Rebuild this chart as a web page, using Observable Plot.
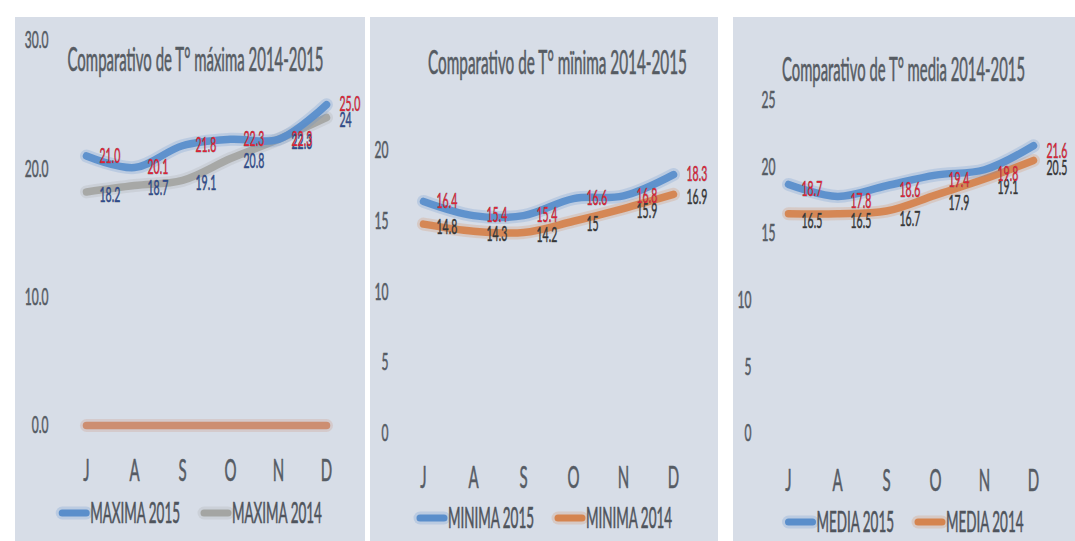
<!DOCTYPE html>
<html><head><meta charset="utf-8">
<script src="https://cdn.jsdelivr.net/npm/d3@7"></script>
<script src="https://cdn.jsdelivr.net/npm/@observablehq/plot@0.6"></script>
<style>
html,body{margin:0;padding:0;background:#fff;}
#page{position:relative;width:1075px;height:541px;overflow:hidden;background:#fff;}
.panel{position:absolute;top:17px;height:524px;background:#d7dde7;}
.panel svg{display:block;}
</style></head><body><div id="page"></div>
<script>
// ---- data ----
const months = ["J","A","S","O","N","D"];
const maxima2015 = [21.0, 20.1, 21.8, 22.3, 22.3, 25.0];
const maxima2014 = [18.2, 18.7, 19.1, 20.8, 22.3, 24];
const maximaSerie3 = [0, 0, 0, 0, 0, 0];
const minima2015 = [16.4, 15.4, 15.4, 16.6, 16.8, 18.3];
const minima2014 = [14.8, 14.3, 14.2, 15, 15.9, 16.9];
const media2015 = [18.7, 17.8, 18.6, 19.4, 19.8, 21.6];
const media2014 = [16.5, 16.5, 16.7, 17.9, 19.1, 20.5];
const maximaTicks = [0, 10, 20, 30];
const minimaTicks = [0, 5, 10, 15, 20];
const mediaTicksTop = [15, 20, 25];
const mediaTicksBottom = [0, 5, 10];
const titles = ["Comparativo de T° máxima 2014-2015", "Comparativo de T° mïnima 2014-2015", "Comparativo de T° media 2014-2015"];
const seriesNames = [["MAXIMA 2015", "MAXIMA 2014"], ["MINIMA 2015", "MINIMA 2014"], ["MEDIA 2015", "MEDIA 2014"]];

const FONT = "Lato, 'Open Sans', 'DejaVu Sans', sans-serif";
const BLUE = "#5a8ecb", GRAY = "#a4a5a3", ORANGE = "#d5844f", ORANGE0 = "#cc8a6c";
const RED = "#dc2336";

const rowsOf = (vals, series) => vals.map((v, i) => ({month: months[i], value: v, series}));
const fmt1 = v => v.toFixed(1);
const fmtG = v => String(v);

const panels = [
  {left: 15, width: 350, title: titles[0], titleWidth: 256, titleDx: -11, titleDy: 20,
   domain: [0, 30], marginTop: 23, marginBottom: 70, marginLeft: 70, marginRight: 38,
   yAxes: [{ticks: maximaTicks, pad: 37}], yFmt: fmt1, xPad: 34, labelDy: 0,
   extra: {name: "Serie3", values: maximaSerie3, color: ORANGE0},
   s15: {name: seriesNames[0][0], values: maxima2015, color: BLUE, labelColor: RED, fmt: fmt1},
   s14: {name: seriesNames[0][1], values: maxima2014, color: GRAY, labelColor: "#2e4a8c", fmt: fmtG},
   legendY: 18},
  {left: 370, width: 348, title: titles[1], titleWidth: 259, titleDx: 9, titleDy: -87,
   domain: [0, 20], marginTop: 133, marginBottom: 62, marginLeft: 53, marginRight: 45,
   yAxes: [{ticks: minimaTicks, pad: 35}], yFmt: fmtG, xPad: 33, labelDy: 0,
   s15: {name: seriesNames[1][0], values: minima2015, color: BLUE, labelColor: RED, fmt: fmt1},
   s14: {name: seriesNames[1][1], values: minima2014, color: ORANGE, labelColor: "#363636", fmt: fmtG},
   legendY: 23},
  {left: 733, width: 342, title: titles[2], titleWidth: 243, titleDx: -7, titleDy: -30,
   domain: [0, 25], marginTop: 83, marginBottom: 62, marginLeft: 54, marginRight: 42,
   yAxes: [{ticks: mediaTicksTop, pad: 12}, {ticks: mediaTicksBottom, pad: 36}], yFmt: fmtG, xPad: 36, labelDy: 5,
   s15: {name: seriesNames[2][0], values: media2015, color: BLUE, labelColor: RED, fmt: fmt1},
   s14: {name: seriesNames[2][1], values: media2014, color: ORANGE, labelColor: "#363636", fmt: fmtG},
   legendY: 27}
];

const page = document.getElementById("page");
const H = 478;

function compress(svg, f, special) {
  svg.querySelectorAll("text").forEach(t => {
    const L = t.getComputedTextLength();
    if (!L) return;
    const w = special && special[t.textContent] != null ? special[t.textContent] : L * f;
    t.setAttribute("textLength", w);
    t.setAttribute("lengthAdjust", "spacingAndGlyphs");
    if (!t.hasAttribute("stroke")) {
      t.setAttribute("stroke", t.getAttribute("fill") || "currentColor");
      t.setAttribute("stroke-width", 0.6);
    }
  });
}

function lineMarks(s) {
  const rows = rowsOf(s.values, s.name);
  return [
    Plot.line(rows, {x: "month", y: "value", stroke: s.color, strokeWidth: 13, strokeOpacity: 0.22, curve: "catmull-rom"}),
    Plot.line(rows, {x: "month", y: "value", stroke: s.color, strokeWidth: 7.5, strokeOpacity: 0.95, curve: "catmull-rom"})
  ];
}
function labelMarks(s, dy) {
  const rows = rowsOf(s.values, s.name);
  return Plot.text(rows, {x: "month", y: "value", text: d => s.fmt(d.value), dx: 13, dy, textAnchor: "start",
    fill: s.labelColor, fontSize: 21, stroke: s.labelColor, strokeWidth: 0.5});
}

panels.forEach(p => {
  const div = document.createElement("div");
  div.className = "panel";
  div.style.left = p.left + "px";
  div.style.width = p.width + "px";
  page.appendChild(div);

  const marks = [];
  if (p.extra) marks.push(...lineMarks(p.extra));
  marks.push(...lineMarks(p.s14), ...lineMarks(p.s15));
  marks.push(labelMarks(p.s14, p.labelDy + 3), labelMarks(p.s15, p.labelDy));
  p.yAxes.forEach(a => marks.push(Plot.axisY({ticks: a.ticks, tickFormat: p.yFmt, tickSize: 0, tickPadding: a.pad, fontSize: 24, label: null})));
  marks.push(Plot.axisX({tickSize: 0, tickPadding: p.xPad, fontSize: 30, label: null}));
  marks.push(Plot.text([p.title], {frameAnchor: "top", dx: p.titleDx, dy: p.titleDy, lineAnchor: "middle", fontSize: 32, fill: "#565b62"}));

  const chart = Plot.plot({
    width: p.width, height: H,
    marginTop: p.marginTop, marginBottom: p.marginBottom, marginLeft: p.marginLeft, marginRight: p.marginRight,
    x: {type: "point", domain: months, padding: 0},
    y: {domain: p.domain},
    style: {background: "transparent", color: "#555b64", fontFamily: FONT, overflow: "visible"},
    marks
  });
  div.appendChild(chart);
  compress(chart, 0.5, {[p.title]: p.titleWidth});

  // legend (below the plot SVG)
  const leg = d3.select(div).append("svg").attr("width", p.width).attr("height", 524 - H)
    .style("font-family", FONT).style("overflow", "visible");
  const items = [p.s15, p.s14];
  const g = leg.append("g");
  let x = 0;
  items.forEach((s, i) => {
    const it = g.append("g").attr("transform", `translate(${x},0)`);
    it.append("line").attr("x1", 4).attr("x2", 28).attr("y1", p.legendY).attr("y2", p.legendY)
      .attr("stroke", s.color).attr("stroke-width", 13).attr("stroke-opacity", 0.22).attr("stroke-linecap", "round");
    it.append("line").attr("x1", 4).attr("x2", 28).attr("y1", p.legendY).attr("y2", p.legendY)
      .attr("stroke", s.color).attr("stroke-width", 7).attr("stroke-linecap", "round");
    const t = it.append("text").attr("x", 32).attr("y", p.legendY).attr("dy", "0.36em")
      .attr("font-size", 28).attr("fill", "#4f545c").attr("stroke", "#4f545c").attr("stroke-width", 0.6).text(s.name);
    const L = t.node().getComputedTextLength() * 0.48;
    t.attr("textLength", L).attr("lengthAdjust", "spacingAndGlyphs");
    x += 32 + L + 20;
  });
  const total = x - 20;
  g.attr("transform", `translate(${(p.width - total) / 2},0)`);
});
</script></body></html>
